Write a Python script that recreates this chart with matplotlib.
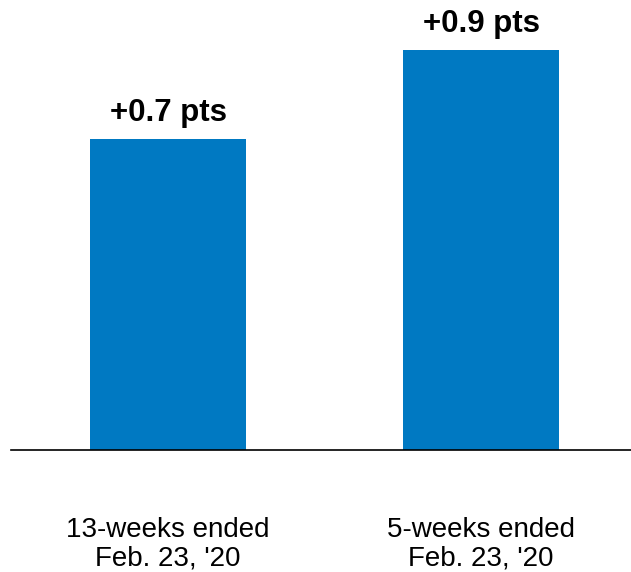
import matplotlib
matplotlib.use("Agg")
import matplotlib.pyplot as plt

plt.rcParams['font.family'] = ['Liberation Sans', 'DejaVu Sans']

categories = ["13-weeks ended\nFeb. 23, '20", "5-weeks ended\nFeb. 23, '20"]
values = [0.7, 0.9]
value_labels = ["+0.7 pts", "+0.9 pts"]

bar_color = "#0079C2"

fig = plt.figure(figsize=(6.31, 5.72), dpi=100)
ax = fig.add_axes([11 / 631, 122 / 572, 620 / 631, 444 / 572])

x = range(len(values))
ax.bar(x, values, width=0.5, color=bar_color, zorder=2)

for xi, v, lab in zip(x, values, value_labels):
    ax.text(xi, v + 0.042, lab, ha="center", va="baseline",
            fontsize=22.5, fontweight="bold", color="black")

ax.set_xlim(-0.502, 1.479)
ax.set_ylim(0, 1.0)

for side in ["top", "right", "left"]:
    ax.spines[side].set_visible(False)
ax.spines["bottom"].set_linewidth(1.2)
ax.spines["bottom"].set_color("black")

ax.set_yticks([])
ax.set_xticks(list(x))
ax.set_xticklabels(categories, fontsize=20, linespacing=1.14)
ax.tick_params(axis="x", length=0, pad=48)

fig.savefig("out.png", dpi=100)
